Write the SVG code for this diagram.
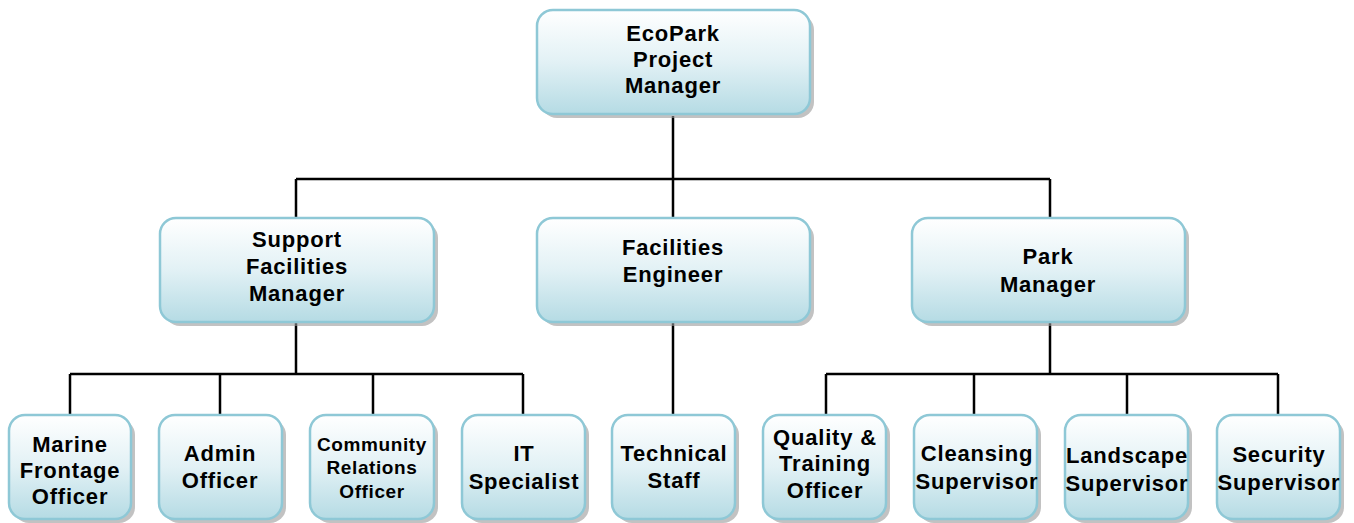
<svg xmlns="http://www.w3.org/2000/svg" width="1354" height="523" viewBox="0 0 1354 523">
<defs>
<linearGradient id="g" x1="0" y1="0" x2="0" y2="1">
<stop offset="0" stop-color="#ffffff"/>
<stop offset="0.5" stop-color="#e2f1f5"/>
<stop offset="1" stop-color="#b5dbe4"/>
</linearGradient>
<style>
.sh{fill:#9a9a9a;opacity:0.6}
.bx{fill:url(#g);stroke:#8ec8d6;stroke-width:2.5}
text{font-family:"Liberation Sans",Arial,sans-serif;font-weight:bold;font-size:22px;letter-spacing:0.8px;fill:#000;text-anchor:middle}
.sm{font-size:19px;letter-spacing:0.6px}
.cn{stroke:#000;stroke-width:2.5;fill:none}
</style>
</defs>
<rect width="1354" height="523" fill="#fff"/>
<g id="connectors">
<path class="cn" d="M673 116V179M296 179H1050M296 179V218M673 179V218M1050 179V218"/>
<path class="cn" d="M296 323V374M70 374H523M70 374V415M220 374V415M373 374V415M523 374V415"/>
<path class="cn" d="M673 323V415"/>
<path class="cn" d="M1050 323V374M826 374H1278M826 374V415M974 374V415M1127 374V415M1278 374V415"/>
</g>
<g id="n-ecopark"><rect class="sh" x="541" y="14" width="273" height="104" rx="16"/><rect class="bx" x="537" y="10" width="273" height="104" rx="16"/><text x="673" y="41">EcoPark</text><text x="673" y="67">Project</text><text x="673" y="93">Manager</text></g>
<g id="n-support"><rect class="sh" x="164" y="222" width="274" height="104" rx="16"/><rect class="bx" x="160" y="218" width="274" height="104" rx="16"/><text x="297" y="247">Support</text><text x="297" y="274">Facilities</text><text x="297" y="301">Manager</text></g>
<g id="n-facilities"><rect class="sh" x="541" y="222" width="273" height="104" rx="16"/><rect class="bx" x="537" y="218" width="273" height="104" rx="16"/><text x="673" y="255">Facilities</text><text x="673" y="282">Engineer</text></g>
<g id="n-park"><rect class="sh" x="916" y="222" width="273" height="104" rx="16"/><rect class="bx" x="912" y="218" width="273" height="104" rx="16"/><text x="1048" y="264">Park</text><text x="1048" y="292">Manager</text></g>
<g id="n-marine"><rect class="sh" x="13" y="419" width="122" height="104" rx="16"/><rect class="bx" x="9" y="415" width="122" height="104" rx="16"/><text x="70" y="452">Marine</text><text x="70" y="478">Frontage</text><text x="70" y="504">Officer</text></g>
<g id="n-admin"><rect class="sh" x="163" y="419" width="123" height="104" rx="16"/><rect class="bx" x="159" y="415" width="123" height="104" rx="16"/><text x="220" y="461">Admin</text><text x="220" y="488">Officer</text></g>
<g id="n-community"><rect class="sh" x="314" y="419" width="124" height="104" rx="16"/><rect class="bx" x="310" y="415" width="124" height="104" rx="16"/><text class="sm" x="372" y="451">Community</text><text class="sm" x="372" y="474">Relations</text><text class="sm" x="372" y="498">Officer</text></g>
<g id="n-it"><rect class="sh" x="466" y="419" width="123" height="104" rx="16"/><rect class="bx" x="462" y="415" width="123" height="104" rx="16"/><text x="524" y="461">IT</text><text x="524" y="489">Specialist</text></g>
<g id="n-technical"><rect class="sh" x="616" y="419" width="123" height="104" rx="16"/><rect class="bx" x="612" y="415" width="123" height="104" rx="16"/><text x="674" y="461">Technical</text><text x="674" y="488">Staff</text></g>
<g id="n-quality"><rect class="sh" x="767" y="419" width="123" height="104" rx="16"/><rect class="bx" x="763" y="415" width="123" height="104" rx="16"/><text x="825" y="445">Quality &amp;</text><text x="825" y="471">Training</text><text x="825" y="498">Officer</text></g>
<g id="n-cleansing"><rect class="sh" x="918" y="419" width="123" height="104" rx="16"/><rect class="bx" x="914" y="415" width="123" height="104" rx="16"/><text x="977" y="461">Cleansing</text><text x="977" y="489">Supervisor</text></g>
<g id="n-landscape"><rect class="sh" x="1069" y="419" width="123" height="104" rx="16"/><rect class="bx" x="1065" y="415" width="123" height="104" rx="16"/><text x="1127" y="463">Landscape</text><text x="1127" y="491">Supervisor</text></g>
<g id="n-security"><rect class="sh" x="1221" y="419" width="123" height="104" rx="16"/><rect class="bx" x="1217" y="415" width="123" height="104" rx="16"/><text x="1279" y="462">Security</text><text x="1279" y="490">Supervisor</text></g>
</svg>
